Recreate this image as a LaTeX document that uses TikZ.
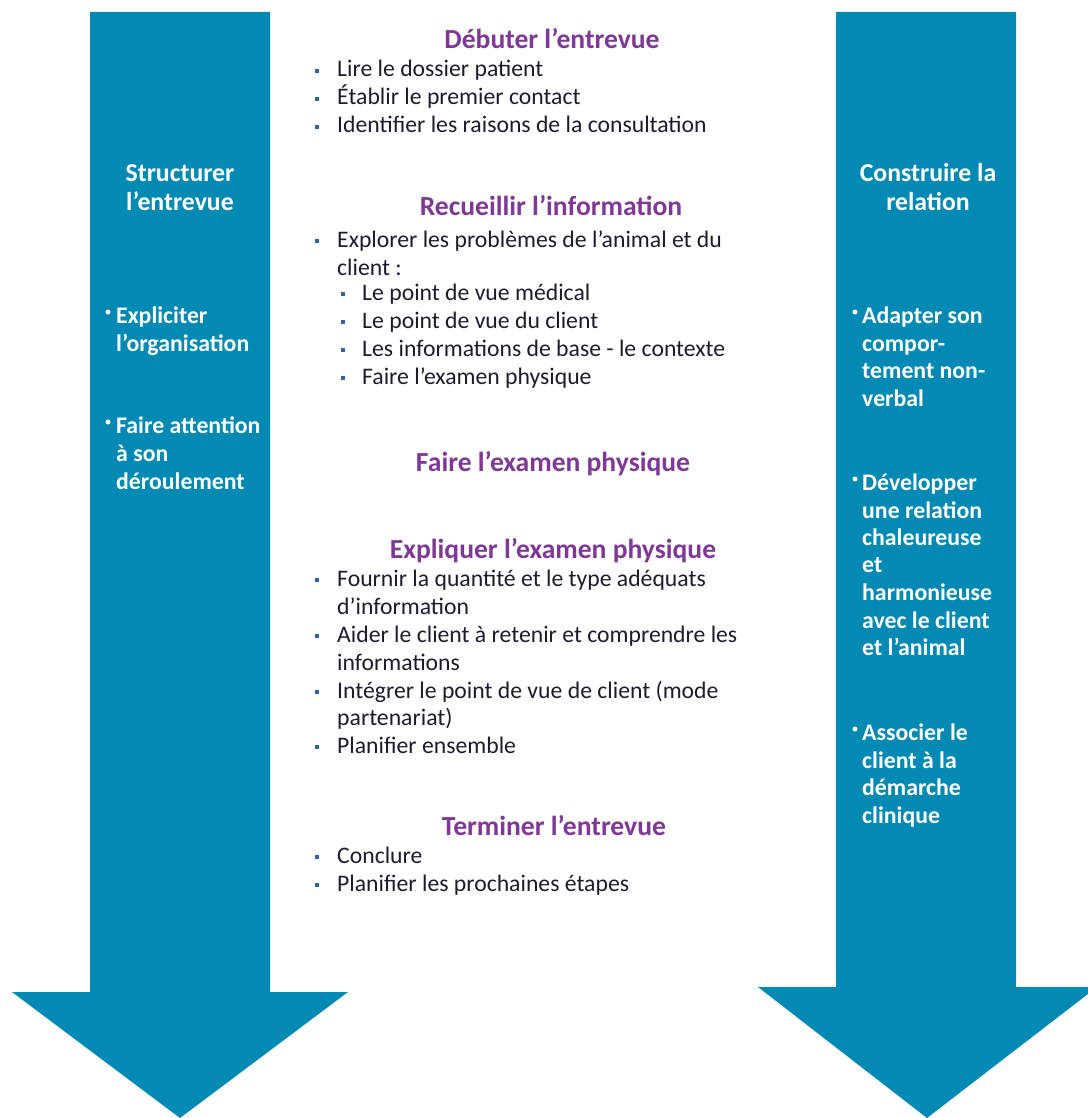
\documentclass[tikz,border=0pt]{standalone}
\usepackage{fontspec}
\setmainfont{Carlito}
\definecolor{arrowblue}{RGB}{2,138,181}
\definecolor{titlepurple}{RGB}{128,56,150}
\definecolor{bodytext}{RGB}{28,28,45}
\definecolor{bulletblue}{RGB}{45,100,170}
\begin{document}
\begin{tikzpicture}[x=1pt,y=-1pt,
  title/.style={font=\fontsize{27.6}{28}\selectfont\bfseries, text=titlepurple, anchor=base, inner sep=0},
  body/.style={font=\fontsize{23.7}{28}\selectfont, text=bodytext, anchor=base west, inner sep=0},
  sq/.style={fill=bulletblue, minimum size=4.5pt, inner sep=0},
  atitle/.style={font=\fontsize{25.8}{28}\selectfont\bfseries, text=white, anchor=base, inner sep=0},
  aitem/.style={font=\fontsize{23.8}{28}\selectfont\bfseries, text=white, anchor=base west, inner sep=0},
  adot/.style={fill=white, circle, minimum size=5pt, inner sep=0}
]
\useasboundingbox (0,0) rectangle (1087,1118);
% arrows
\fill[arrowblue] (90,12) -- (270,12) -- (270,992) -- (348,992) -- (180,1118) -- (12,992) -- (90,992) -- cycle;
\fill[arrowblue] (836,12) -- (1016,12) -- (1016,987) -- (1097,987) -- (927,1118) -- (758,987) -- (836,987) -- cycle;

% left arrow text
\node[atitle] (l1) at (180,182) {Structurer};
\node[atitle] (l2) at (180,210) {l’entrevue};
\node[adot] (ld1) at (108,312) {};
\node[aitem] (la1) at (116,323) {Expliciter};
\node[aitem] (la2) at (116,351) {l’organisation};
\node[adot] (ld2) at (108,422) {};
\node[aitem] (lb1) at (116,433) {Faire attention};
\node[aitem] (lb2) at (116,461) {à son};
\node[aitem] (lb3) at (116,489) {déroulement};

% right arrow text
\node[atitle] (r1) at (928,182) {Construire la};
\node[atitle] (r2) at (928,210) {relation};
\node[adot] (rd1) at (855,312) {};
\node[aitem] (ra1) at (862,323) {Adapter son};
\node[aitem] (ra2) at (862,351) {compor-};
\node[aitem] (ra3) at (862,378) {tement non-};
\node[aitem] (ra4) at (862,406) {verbal};
\node[adot] (rd2) at (855,479) {};
\node[aitem] (rb1) at (862,490) {Développer};
\node[aitem] (rb2) at (862,518) {une relation};
\node[aitem] (rb3) at (862,545) {chaleureuse};
\node[aitem] (rb4) at (862,572) {et};
\node[aitem] (rb5) at (862,600) {harmonieuse};
\node[aitem] (rb6) at (862,628) {avec le client};
\node[aitem] (rb7) at (862,655) {et l’animal};
\node[adot] (rd3) at (855,729) {};
\node[aitem] (rc1) at (862,740) {Associer le};
\node[aitem] (rc2) at (862,768) {client à la};
\node[aitem] (rc3) at (862,795) {démarche};
\node[aitem] (rc4) at (862,823) {clinique};

% centre: Débuter
\node[title] (t1) at (552,49) {Débuter l’entrevue};
\node[sq] (b11) at (317,71) {};
\node[body] (c11) at (337,77) {Lire le dossier patient};
\node[sq] (b12) at (317,99) {};
\node[body] (c12) at (337,105) {Établir le premier contact};
\node[sq] (b13) at (317,127) {};
\node[body] (c13) at (337,133) {Identifier les raisons de la consultation};

% Recueillir
\node[title] (t2) at (551,215) {Recueillir l’information};
\node[sq] (b21) at (317,241) {};
\node[body] (c21) at (337,247) {Explorer les problèmes de l’animal et du};
\node[body] (c22) at (337,275) {client :};
\node[sq] (b23) at (343,294) {};
\node[body] (c23) at (362,300) {Le point de vue médical};
\node[sq] (b24) at (343,322) {};
\node[body] (c24) at (362,328) {Le point de vue du client};
\node[sq] (b25) at (343,350) {};
\node[body] (c25) at (362,356) {Les informations de base - le contexte};
\node[sq] (b26) at (343,378) {};
\node[body] (c26) at (362,384) {Faire l’examen physique};

% Faire
\node[title] (t3) at (553,471) {Faire l’examen physique};

% Expliquer
\node[title] (t4) at (553,558) {Expliquer l’examen physique};
\node[sq] (b41) at (317,580) {};
\node[body] (c41) at (337,586) {Fournir la quantité et le type adéquats};
\node[body] (c42) at (337,614) {d’information};
\node[sq] (b43) at (317,636) {};
\node[body] (c43) at (337,642) {Aider le client à retenir et comprendre les};
\node[body] (c44) at (337,670) {informations};
\node[sq] (b45) at (317,692) {};
\node[body] (c45) at (337,698) {Intégrer le point de vue de client (mode};
\node[body] (c46) at (337,725) {partenariat)};
\node[sq] (b47) at (317,747) {};
\node[body] (c47) at (337,753) {Planifier ensemble};

% Terminer
\node[title] (t5) at (554,835) {Terminer l’entrevue};
\node[sq] (b51) at (317,857) {};
\node[body] (c51) at (337,863) {Conclure};
\node[sq] (b52) at (317,885) {};
\node[body] (c52) at (337,891) {Planifier les prochaines étapes};
\end{tikzpicture}
\end{document}
